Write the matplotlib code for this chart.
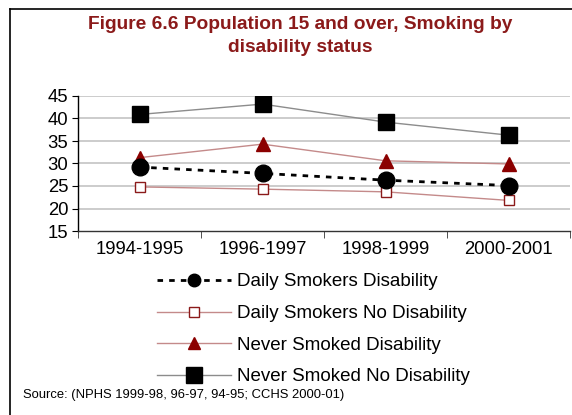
import matplotlib
matplotlib.use("Agg")
import matplotlib.pyplot as plt
from matplotlib.lines import Line2D

plt.rcParams['font.family'] = ['Liberation Sans', 'DejaVu Sans']

periods = ["1994-1995", "1996-1997", "1998-1999", "2000-2001"]
daily_disability = [29.2, 27.8, 26.3, 25.1]
daily_no_disability = [24.8, 24.3, 23.7, 21.8]
never_disability = [31.3, 34.3, 30.6, 29.9]
never_no_disability = [40.9, 43.2, 39.2, 36.3]
y_ticks = [15, 20, 25, 30, 35, 40, 45]

title = "Figure 6.6 Population 15 and over, Smoking by\ndisability status"
source = "Source: (NPHS 1999-98, 96-97, 94-95; CCHS 2000-01)"
labels = ["Daily Smokers Disability", "Daily Smokers No Disability",
          "Never Smoked Disability", "Never Smoked No Disability"]

W, H = 572, 415
fig = plt.figure(figsize=(W / 100, H / 100), dpi=100)
ax = fig.add_axes([78 / W, 1 - 231 / H, (570 - 78) / W, (231 - 96) / H])

x = list(range(len(periods)))
rose = "#c48a8a"
dark_red = "#8b0000"

styles = [
    dict(color="black", lw=2.0, ls=(0, (2, 2.2)), marker="o",
         mfc="black", mec="black"),
    dict(color=rose, lw=1.0, marker="s", mfc="white", mec="#8b1a1a", mew=1.0),
    dict(color=rose, lw=1.0, marker="^", mfc=dark_red, mec=dark_red),
    dict(color="#8c8c8c", lw=1.0, marker="s", mfc="black", mec="black"),
]
plot_sizes = [12, 6.5, 10, 11]
legend_sizes = [9, 6.5, 9, 11]
series = [daily_disability, daily_no_disability, never_disability, never_no_disability]

for vals, st, ms, z in zip(series, styles, plot_sizes, [5, 4, 4, 4]):
    ax.plot(x, vals, ms=ms, zorder=z, **st)

ax.set_xlim(-0.5, len(periods) - 0.5)
ax.set_ylim(15, 45)
ax.set_yticks(y_ticks)
ax.set_yticklabels([str(v) for v in y_ticks], fontsize=13.3)
ax.set_xticks(x)
ax.set_xticklabels(periods, fontsize=13.3)
ax.set_xticks([i - 0.5 for i in range(len(periods) + 1)], minor=True)
ax.tick_params(axis="x", which="major", length=0, pad=7)
ax.tick_params(axis="x", which="minor", length=5, direction="out", color="#333333")
ax.tick_params(axis="y", length=4, direction="out", pad=3)

for v in y_ticks[1:]:
    ax.axhline(v, color="#c8c8c8", lw=1.3, zorder=1)

for s in ("top", "right"):
    ax.spines[s].set_visible(False)
ax.spines["left"].set_color("black")
ax.spines["bottom"].set_color("#333333")
ax.spines["left"].set_linewidth(1.0)
ax.spines["bottom"].set_linewidth(1.0)

fig.text(300 / W, 1 - 36 / H, title, ha="center", va="center", fontsize=13.8,
         fontweight="bold", color="#8b1a1a", linespacing=1.42)

handles = [Line2D([], [], ms=ms, **st) for st, ms in zip(styles, legend_sizes)]
fig.legend(handles=handles, labels=labels, loc="upper left",
           bbox_to_anchor=(148 / W, 1 - 264 / H), frameon=False,
           fontsize=13.5, handlelength=3.9, handletextpad=0.37,
           labelspacing=0.77, borderpad=0)

fig.text(23 / W, 1 - 395 / H, source, ha="left", va="center", fontsize=9.4)

# outer frame lines
fig.add_artist(Line2D([9.5 / W, 9.5 / W], [0, 1 - 9.5 / H], transform=fig.transFigure,
                      color="black", lw=1.2))
fig.add_artist(Line2D([9.5 / W, 1], [1 - 9.5 / H, 1 - 9.5 / H], transform=fig.transFigure,
                      color="black", lw=1.2))

fig.savefig("out.png", dpi=100)
